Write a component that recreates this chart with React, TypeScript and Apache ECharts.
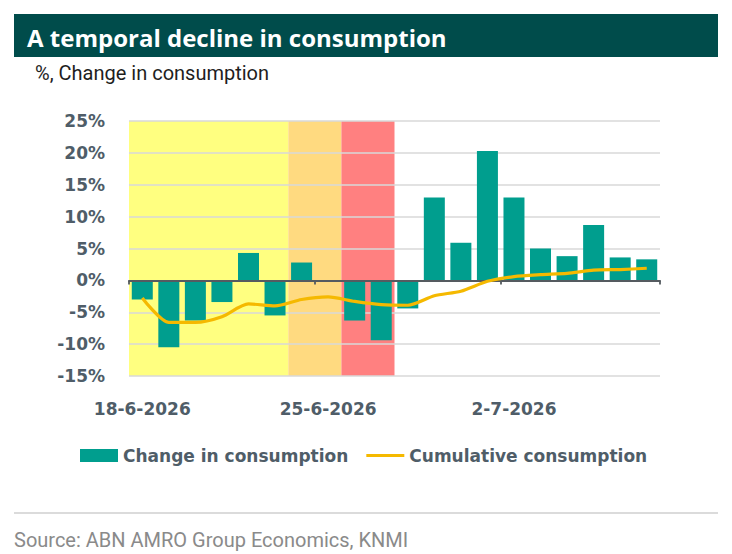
import React, { useEffect, useRef } from "react";
import * as echarts from "echarts";

const categories = [
  "18-6-2026", "19-6-2026", "20-6-2026", "21-6-2026", "22-6-2026", "23-6-2026", "24-6-2026",
  "25-6-2026", "26-6-2026", "27-6-2026", "28-6-2026", "29-6-2026", "30-6-2026", "1-7-2026",
  "2-7-2026", "3-7-2026", "4-7-2026", "5-7-2026", "6-7-2026", "7-7-2026",
];
const changeInConsumption = [
  -3.0, -10.5, -6.3, -3.4, 4.3, -5.5, 2.8, null, -6.3, -9.4,
  -4.4, 13.0, 5.9, 20.3, 13.0, 5.0, 3.8, 8.7, 3.6, 3.3,
];
const cumulativeConsumption = [
  -2.75, -6.6, -6.6, -5.7, -3.7, -4.0, -3.0, -2.6, -3.3, -3.8,
  -3.9, -2.4, -1.7, -0.15, 0.6, 0.9, 1.1, 1.6, 1.7, 1.9,
];
// background periods: [start category index, end category index (exclusive)]
const periods = [
  { from: 0, to: 6, color: "#FFFF80" },
  { from: 6, to: 8, color: "#FFDA80" },
  { from: 8, to: 10, color: "#FF8080" },
];
const yTickValues = [-15, -10, -5, 0, 5, 10, 15, 20, 25];

const TEAL = "#009E8E";
const GOLD = "#F5B900";
const LABEL = "#4F5D68";
const AXISFONT = "DejaVu Sans";

export default function App() {
  const ref = useRef<HTMLDivElement>(null);
  useEffect(() => {
    if (!ref.current) return;
    const chart = echarts.init(ref.current, undefined, { renderer: "svg" });
    chart.setOption({
      animation: false,
      backgroundColor: "#ffffff",
      grid: { left: 129, right: 72, top: 121, bottom: 178, containLabel: false },
      graphic: [
        { type: "rect", shape: { x: 14, y: 14, width: 704, height: 43 }, style: { fill: "#004C4B" } },
        {
          type: "text", x: 27, y: 37,
          style: { text: "A temporal decline in consumption", fill: "#ffffff", font: "bold 24px 'Open Sans'", textVerticalAlign: "middle" },
        },
        {
          type: "text", x: 35, y: 73,
          style: { text: "%, Change in consumption", fill: "#1e1e1e", font: "20px Roboto", textVerticalAlign: "middle" },
        },
        { type: "line", shape: { x1: 14, y1: 513, x2: 718, y2: 513 }, style: { stroke: "#cfcfcf", lineWidth: 1.5 } },
        {
          type: "text", x: 14, y: 540,
          style: { text: "Source: ABN AMRO Group Economics, KNMI", fill: "#8a8a8a", font: "20px Roboto", textVerticalAlign: "middle" },
        },
      ],
      legend: {
        left: 75, top: 442, itemWidth: 38, itemHeight: 13, itemGap: 18,
        data: [
          { name: "Change in consumption", icon: "rect" },
          { name: "Cumulative consumption", icon: "path://M0 0H42V3.2H0Z" },
        ],
        textStyle: { fontSize: 17, fontWeight: "bold", color: LABEL, fontFamily: AXISFONT },
      },
      xAxis: [
        {
          type: "category", data: categories, boundaryGap: true, z: 3,
          axisLine: { onZero: true, lineStyle: { color: "#555b60", width: 1.8 } },
          axisTick: { show: true, interval: 6, length: 4, lineStyle: { color: "#555b60", width: 1.8 } },
          axisLabel: { show: false },
          splitLine: { show: false },
        },
        {
          type: "category", data: categories, boundaryGap: true, position: "bottom",
          axisLine: { show: false, onZero: false },
          axisTick: { show: false },
          axisLabel: { interval: 6, margin: 24, fontSize: 17, fontWeight: "bold", color: LABEL, fontFamily: AXISFONT },
        },
        { type: "value", min: 0, max: categories.length, show: false },
      ],
      yAxis: {
        type: "value", min: yTickValues[0], max: yTickValues[yTickValues.length - 1], interval: 5,
        axisLine: { show: false }, axisTick: { show: false },
        axisLabel: { formatter: "{value}%", margin: 24, fontSize: 17, fontWeight: "bold", color: LABEL, fontFamily: AXISFONT },
        splitLine: { show: false },
      },
      series: [
        {
          type: "line", xAxisIndex: 2, data: [], z: 0, silent: true,
          markArea: {
            silent: true, z: 0,
            data: periods.map((p) => [
              { xAxis: p.from, itemStyle: { color: p.color } },
              { xAxis: p.to },
            ]),
          },
        },
        {
          type: "line", xAxisIndex: 2, data: [], z: 1, silent: true,
          markLine: {
            silent: true, symbol: "none", label: { show: false }, z: 1,
            lineStyle: { color: "#d9d9d9", width: 1.5, type: "solid" },
            data: yTickValues.map((v) => ({ yAxis: v })),
          },
        },
        {
          name: "Change in consumption", type: "bar", xAxisIndex: 0, data: changeInConsumption,
          barWidth: 21, z: 2, itemStyle: { color: TEAL },
        },
        {
          name: "Cumulative consumption", type: "line", xAxisIndex: 0, data: cumulativeConsumption, z: 4,
          symbol: "none", smooth: 0.25, lineStyle: { color: GOLD, width: 3.2 }, itemStyle: { color: GOLD },
        },
      ],
    });
    return () => chart.dispose();
  }, []);
  return <div ref={ref} style={{ position: "fixed", left: 0, top: 0, width: 732, height: 554 }} />;
}
